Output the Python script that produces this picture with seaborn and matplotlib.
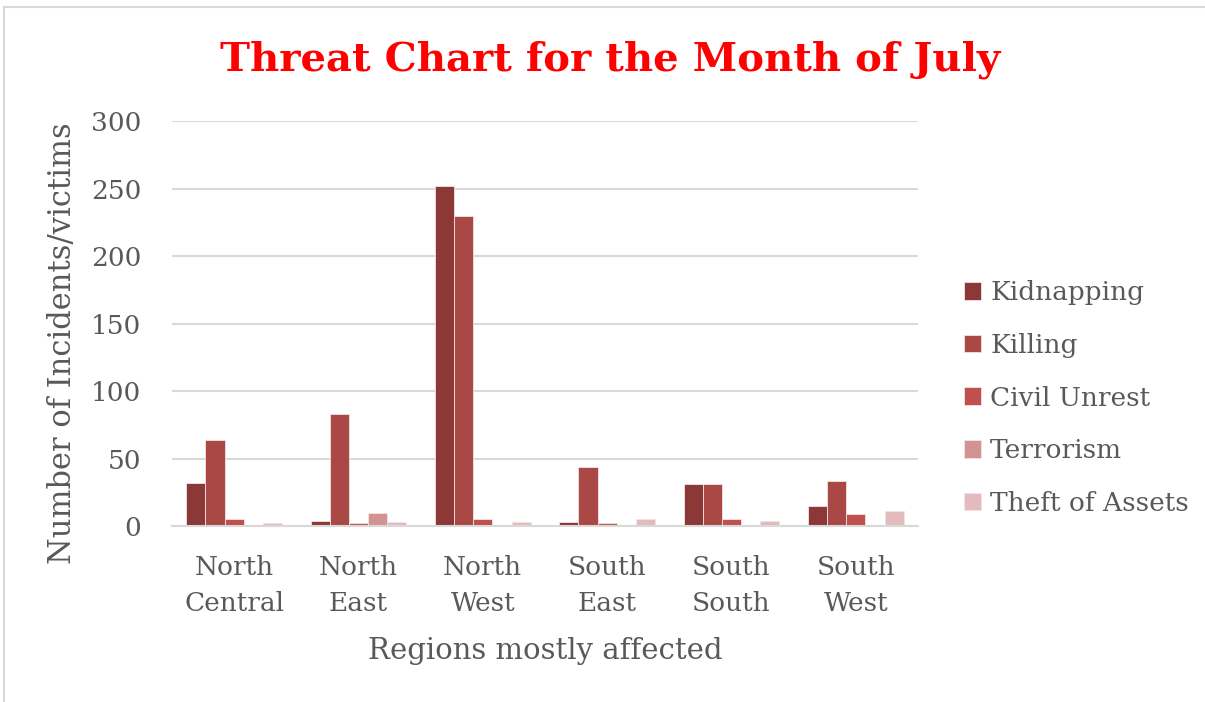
import matplotlib
matplotlib.use("Agg")
import matplotlib.pyplot as plt
import seaborn as sns
import pandas as pd
from matplotlib.lines import Line2D

# Data
regions = ["North\nCentral", "North\nEast", "North\nWest", "South\nEast", "South\nSouth", "South\nWest"]
threats = ["Kidnapping", "Killing", "Civil Unrest", "Terrorism", "Theft of Assets"]
kidnapping = [32, 4, 252, 3, 31, 15]
killing = [64, 83, 230, 44, 31, 33]
civil_unrest = [5, 2, 5, 2, 5, 9]
terrorism = [0, 10, 0.5, 0, 0, 0]
theft = [2, 3, 3, 5, 4, 11]
colors = ["#8C3836", "#A94845", "#C0504D", "#D39392", "#E3BBBC"]

series = [kidnapping, killing, civil_unrest, terrorism, theft]
rows = []
for name, vals in zip(threats, series):
    for reg, v in zip(regions, vals):
        rows.append({"Region": reg, "Threat": name, "Count": v})
df = pd.DataFrame(rows)

sns.set_style("white")
plt.rcParams["font.family"] = ["DejaVu Serif"]
text_col = "#595959"

fig = plt.figure(figsize=(12.05, 7.02), dpi=100)
ax = fig.add_axes([0.1427, 0.2507, 0.6191, 0.5769])

sns.barplot(data=df, x="Region", y="Count", hue="Threat", palette=colors,
            width=0.77, gap=0, ax=ax, edgecolor="#F3E3E3", linewidth=0.6,
            saturation=1)

ax.set_ylim(0, 300)
ax.set_yticks(range(0, 301, 50))
ax.yaxis.grid(True, color="#D9D9D9", linewidth=1.5)
ax.set_axisbelow(True)
for s in ["top", "right", "left"]:
    ax.spines[s].set_visible(False)
ax.spines["bottom"].set_color("#D9D9D9")
ax.spines["bottom"].set_linewidth(1.5)
ax.tick_params(axis="both", length=0, labelsize=19, colors=text_col)
ax.tick_params(axis="x", pad=21)
ax.tick_params(axis="y", pad=22)
for lbl in ax.get_xticklabels():
    lbl.set_linespacing(1.55)

ax.set_xlabel("Regions mostly affected", fontsize=21, color=text_col, labelpad=15)
ax.set_ylabel("Number of Incidents/victims", fontsize=22, color=text_col)
ax.yaxis.set_label_coords(-0.126, 0.452)

ax.legend(loc="center left", bbox_to_anchor=(0.78, 0.433), bbox_transform=fig.transFigure,
          frameon=False, fontsize=19, labelcolor=text_col, handlelength=0.65,
          handleheight=0.65, handletextpad=0.35, labelspacing=1.05)

fig.suptitle("Threat Chart for the Month of July", x=0.506, y=0.942,
             fontsize=29, fontweight="bold", color="#FF0000")

# chart area border (only top and left edges are visible in the crop)
fig.add_artist(Line2D([4 / 1205, 4 / 1205], [0, 1 - 7 / 702], transform=fig.transFigure,
                      color="#D9D9D9", linewidth=1.5))
fig.add_artist(Line2D([4 / 1205, 1], [1 - 7 / 702, 1 - 7 / 702], transform=fig.transFigure,
                      color="#D9D9D9", linewidth=1.5))

fig.savefig("out.png", dpi=100)
